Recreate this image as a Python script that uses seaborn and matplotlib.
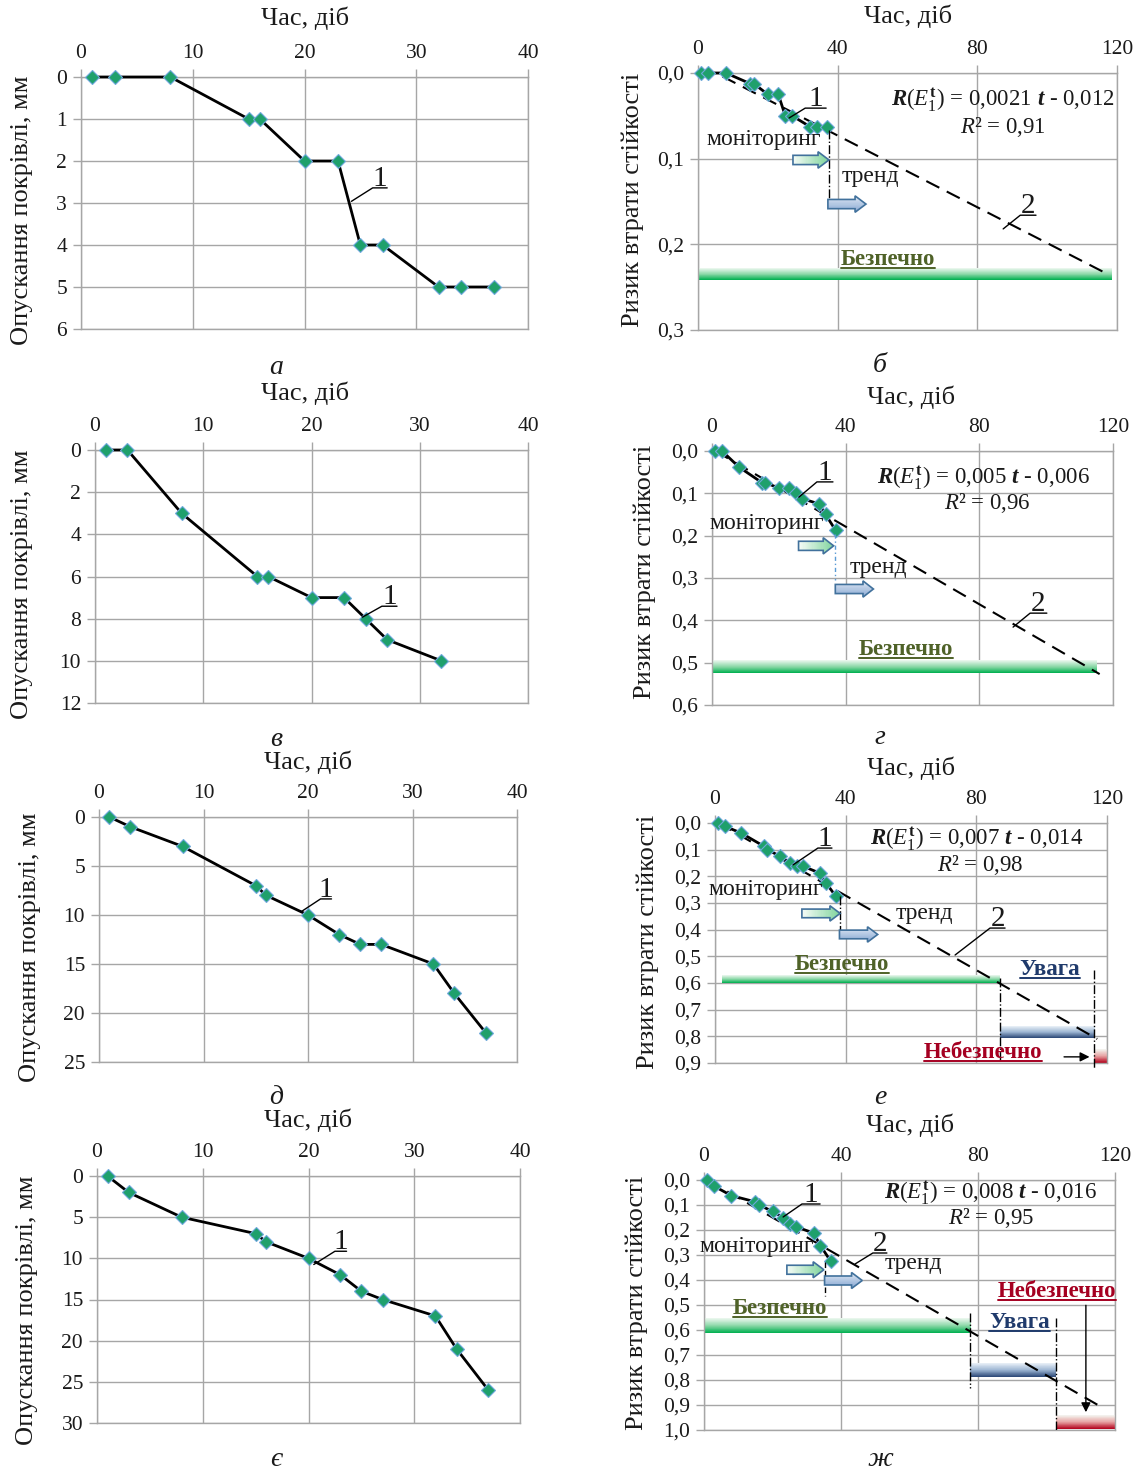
import numpy as np
import matplotlib
matplotlib.use("Agg")
import matplotlib.pyplot as plt
import seaborn as sns
from matplotlib.colors import LinearSegmentedColormap
from matplotlib.patches import Polygon
from matplotlib.lines import Line2D

# ---- дані ----
t_a = [1, 3, 8, 15, 16, 20, 23, 25, 27, 32, 34, 37]
s_a = [0, 0, 0, 1, 1, 2, 2, 4, 4, 5, 5, 5]
r_b = [0, 0, 0, 0.0125, 0.0125, 0.025, 0.025, 0.05, 0.05, 0.0625, 0.0625, 0.0625]
trend_b_t = [7, 116]
trend_b_r = [0.004, 0.232]

t_v = [1, 3, 8, 15, 16, 20, 23, 25, 27, 32]
s_v = [0, 0, 3, 6, 6, 7, 7, 8, 9, 10]
t_g = [1, 3, 8, 15, 16, 20, 23, 25, 27, 32, 34, 37]
r_g = [0, 0, 0.0375, 0.075, 0.075, 0.0875, 0.0875, 0.1, 0.1125, 0.125, 0.15, 0.1875]
trend_g_t = [1, 116]
trend_g_r = [0, 0.527]

t_d = [1, 3, 8, 15, 16, 20, 23, 25, 27, 32, 34, 37]
s_d = [0, 1, 3, 7, 8, 10, 12, 13, 13, 15, 18, 22]
r_e = [0, 0.0125, 0.0375, 0.0875, 0.1, 0.125, 0.15, 0.1625, 0.1625, 0.1875, 0.225, 0.275]
trend_e_t = [1, 117]
trend_e_r = [0, 0.81]

t_ye = [1, 3, 8, 15, 16, 20, 23, 25, 27, 32, 34, 37]
s_ye = [0, 2, 5, 7, 8, 10, 12, 14, 15, 17, 21, 26]
r_zh = [0, 0.025, 0.0625, 0.0875, 0.1, 0.125, 0.15, 0.175, 0.1875, 0.2125, 0.2625, 0.325]
trend_zh_t = [1, 115]
trend_zh_r = [0, 0.9]

eq_b = (r"$\mathbfit{R}(\mathit{E}_{1}^{\mathbf{t}})$ = 0,0021 $\mathbfit{t}$ - 0,012", r"$\mathit{R}$² = 0,91")
eq_g = (r"$\mathbfit{R}(\mathit{E}_{1}^{\mathbf{t}})$ = 0,005 $\mathbfit{t}$ - 0,006", r"$\mathit{R}$² = 0,96")
eq_e = (r"$\mathbfit{R}(\mathit{E}_{1}^{\mathbf{t}})$ = 0,007 $\mathbfit{t}$ - 0,014", r"$\mathit{R}$² = 0,98")
eq_zh = (r"$\mathbfit{R}(\mathit{E}_{1}^{\mathbf{t}})$ = 0,008 $\mathbfit{t}$ - 0,016", r"$\mathit{R}$² = 0,95")

# зони (x0, x1, y0, y1)
safe_b = (0, 118.5, 0.228, 0.242)
safe_g = (0, 115, 0.495, 0.525)
safe_e = (2, 86.8, 0.57, 0.60)
warn_e = (87.2, 116, 0.76, 0.805)
dang_e = (116, 120, 0.85, 0.90)
safe_zh = (0, 77.7, 0.552, 0.612)
warn_zh = (77.7, 102.8, 0.732, 0.788)
dang_zh = (102.8, 120, 0.94, 0.995)

# ---- стиль ----
sns.set_theme(style="white")
plt.rcParams["font.family"] = ["Liberation Serif", "DejaVu Serif"]
plt.rcParams["mathtext.fontset"] = "custom"
plt.rcParams["mathtext.rm"] = "Liberation Serif"
plt.rcParams["mathtext.it"] = "Liberation Serif:italic"
plt.rcParams["mathtext.bf"] = "Liberation Serif:bold"
plt.rcParams["mathtext.bfit"] = "Liberation Serif:italic:bold"

W, H = 1142, 1470
fig = plt.figure(figsize=(W / 100, H / 100), dpi=100)
GRID = "#A6A6A6"
TXT = "#1a1a1a"
EDGE = "#41719C"
FS_TICK = 15.5
FS_LAB = 19
FS_ANN = 17
underlined = []

cm_green = LinearSegmentedColormap.from_list("g", ["#EEF9F1", "#8FD9AA", "#00B050"])
cm_blue = LinearSegmentedColormap.from_list("b", ["#EAF1F8", "#9DB6D3", "#2B4877"])
cm_red = LinearSegmentedColormap.from_list("r", ["#F4F7F2", "#E7A3A3", "#B3001B"])
cm_arr_g = LinearSegmentedColormap.from_list("ag", ["#F4FBF6", "#7FD49C"])
cm_arr_b = LinearSegmentedColormap.from_list("ab", ["#E4ECF6", "#8AA9D3"])


def px_axes(l, t, r, b):
    return fig.add_axes([l / W, 1 - b / H, (r - l) / W, (b - t) / H])


def style(ax, xmax, xstep, ymax, ystep, comma):
    ax.set_xlim(0, xmax)
    ax.set_ylim(ymax, 0)
    ax.set_autoscale_on(False)
    ax.set_xticks(np.arange(0, xmax + 0.01, xstep))
    yt = np.arange(0, ymax + ystep / 2, ystep)
    ax.set_yticks(yt)
    if comma:
        ax.set_yticklabels([f"{v:.1f}".replace(".", ",") for v in yt])
    else:
        ax.set_yticklabels([f"{v:g}" for v in yt])
    ax.xaxis.tick_top()
    ax.grid(True, color=GRID, lw=1)
    ax.set_axisbelow(True)
    for s in ax.spines.values():
        s.set_color(GRID)
        s.set_linewidth(1)
    ax.tick_params(axis="both", length=6, width=1, color=GRID, labelsize=FS_TICK,
                   pad=4, labelcolor=TXT, direction="out")
    ax.tick_params(axis="x", top=True, bottom=False, labeltop=True, labelbottom=False)
    ax.tick_params(axis="y", left=True, right=False)


def curve(ax, t, v):
    sns.lineplot(x=t, y=v, ax=ax, color="black", lw=2, marker="D", markersize=7,
                 markerfacecolor="#1FA06C", markeredgecolor="#6FA8DC",
                 markeredgewidth=0.8, zorder=4, sort=False, clip_on=False)


def trend(ax, t, r):
    ax.plot(t, r, color="black", lw=1.5, dashes=(7, 4), zorder=3)


def leader(ax, p0, p1, x_end, label):
    ax.plot([p0[0], p1[0], x_end], [p0[1], p1[1], p1[1]], color="black", lw=1, zorder=7)
    ax.annotate(label, xy=((p1[0] + x_end) / 2, p1[1]), xytext=(0, 1.5),
                textcoords="offset points", ha="center", va="baseline",
                fontsize=21, color=TXT, zorder=7)


def zone(ax, z, cmap):
    x0, x1, y0, y1 = z
    grad = np.tile(np.linspace(0, 1, 64).reshape(-1, 1), (1, 4))
    ax.imshow(grad, extent=(x0, x1, y1, y0), origin="upper", cmap=cmap,
              aspect="auto", zorder=2, interpolation="nearest")


def block_arrow(ax, x0, x1, y, cmap, vertical):
    (a0, ay), (a1, _) = ax.transLimits.transform([(x0, y), (x1, y)])
    h, hh, hl = 0.018, 0.032, 0.026
    pts = [(a0, ay - h), (a1 - hl, ay - h), (a1 - hl, ay - hh), (a1, ay),
           (a1 - hl, ay + hh), (a1 - hl, ay + h), (a0, ay + h)]
    poly = Polygon(pts, closed=True, transform=ax.transAxes, facecolor="none",
                   edgecolor=EDGE, lw=1.2, zorder=6)
    ax.add_patch(poly)
    if vertical:
        grad = np.tile(np.linspace(0, 1, 32).reshape(-1, 1), (1, 4))
    else:
        grad = np.tile(np.linspace(0, 1, 32).reshape(1, -1), (4, 1))
    im = ax.imshow(grad, extent=(a0, a1, ay - hh, ay + hh), transform=ax.transAxes,
                   origin="upper", cmap=cmap, aspect="auto", zorder=5,
                   interpolation="nearest")
    im.set_clip_path(poly)


def zone_label(ax, x, y, s, color):
    t = ax.text(x, y, s, ha="center", va="center", fontsize=16.5, fontweight="bold",
                color=color, zorder=8)
    underlined.append(t)


def monitoring(ax, mon_xy, green, trend_xy, blue, vline, vcolor="black", vls="-."):
    ax.text(mon_xy[0], mon_xy[1], "моніторинг", ha="right", va="center",
            fontsize=FS_ANN, color=TXT, zorder=8)
    ax.text(trend_xy[0], trend_xy[1], "тренд", ha="left", va="center",
            fontsize=FS_ANN, color=TXT, zorder=8)
    ax.plot([vline[0], vline[0]], [vline[1], vline[2]], color=vcolor, lw=1,
            linestyle=vls, zorder=4)
    block_arrow(ax, green[0], green[1], green[2], cm_arr_g, False)
    block_arrow(ax, blue[0], blue[1], blue[2], cm_arr_b, True)


def equation(ax, eq, eq_xy, r2_xy):
    ax.text(eq_xy[0], eq_xy[1], eq[0], transform=ax.transAxes, ha="right",
            va="center", fontsize=16.5, color=TXT, zorder=8)
    ax.text(r2_xy[0], r2_xy[1], eq[1], transform=ax.transAxes, ha="center",
            va="center", fontsize=16.5, color=TXT, zorder=8)


def ftext(x, y, s, **kw):
    fig.text(x / W, 1 - y / H, s, ha="center", va="center", color=TXT, **kw)


YL = "Опускання покрівлі, мм"
YR = "Ризик втрати стійкості"
XT = "Час, діб"

# ---- а ----
ax = px_axes(81, 77, 528, 329)
style(ax, 40, 10, 6, 1, False)
curve(ax, t_a, s_a)
leader(ax, (24.2, 2.96), (26.1, 2.64), 27.4, "1")
ftext(305, 18, XT, fontsize=FS_LAB)
ftext(22, 210, YL, fontsize=FS_LAB, rotation=90)
ftext(276, 367, "а", fontsize=20, style="italic")

# ---- б ----
ax = px_axes(698, 73, 1117, 330)
style(ax, 120, 40, 0.3, 0.1, True)
zone(ax, safe_b, cm_green)
trend(ax, trend_b_t, trend_b_r)
curve(ax, t_a, r_b)
leader(ax, (26.1, 0.0525), (30.7, 0.041), 36.7, "1")
leader(ax, (87.4, 0.182), (92.3, 0.166), 96.8, "2")
monitoring(ax, (35.3, 0.078), (27.2, 37.5, 0.1015), (41, 0.121), (37.2, 48.1, 0.153),
           (37.5, 0.066, 0.148))
equation(ax, eq_b, (0.995, 0.895), (0.728, 0.79))
zone_label(ax, 54.4, 0.218, "Безпечно", "#4F6228")
ftext(908, 16, XT, fontsize=FS_LAB)
ftext(633, 200, YR, fontsize=FS_LAB, rotation=90)
ftext(880, 365, "б", fontsize=20, style="italic")

# ---- в ----
ax = px_axes(95, 450, 528, 703)
style(ax, 40, 10, 12, 2, False)
curve(ax, t_v, s_v)
leader(ax, (24.7, 7.93), (26.5, 7.41), 27.9, "1")
ftext(305, 393, XT, fontsize=FS_LAB)
ftext(22, 584, YL, fontsize=FS_LAB, rotation=90)
ftext(276, 740, "в", fontsize=20, style="italic")

# ---- г ----
ax = px_axes(712, 451, 1113, 705)
style(ax, 120, 40, 0.6, 0.1, True)
zone(ax, safe_g, cm_green)
trend(ax, trend_g_t, trend_g_r)
curve(ax, t_g, r_g)
leader(ax, (26.0, 0.109), (31.4, 0.073), 36.2, "1")
leader(ax, (90.1, 0.416), (95.2, 0.383), 100.2, "2")
monitoring(ax, (33.4, 0.171), (25.9, 36.4, 0.224), (41.1, 0.276), (36.9, 48.3, 0.326),
           (36.9, 0.197, 0.305), vcolor="#5B9BD5", vls=(0, (3, 2, 1, 2)))
equation(ax, eq_g, (0.943, 0.893), (0.686, 0.795))
zone_label(ax, 58.0, 0.468, "Безпечно", "#4F6228")
ftext(911, 397, XT, fontsize=FS_LAB)
ftext(645, 572, YR, fontsize=FS_LAB, rotation=90)
ftext(880, 738, "г", fontsize=20, style="italic")

# ---- д ----
ax = px_axes(99, 817, 517, 1062)
style(ax, 40, 10, 25, 5, False)
curve(ax, t_d, s_d)
leader(ax, (19.35, 9.66), (21.2, 8.36), 22.25, "1")
ftext(308, 762, XT, fontsize=FS_LAB)
ftext(30, 947, YL, fontsize=FS_LAB, rotation=90)
ftext(276, 1097, "д", fontsize=20, style="italic")

# ---- е ----
ax = px_axes(715, 823, 1107, 1063)
style(ax, 120, 40, 0.9, 0.1, True)
zone(ax, safe_e, cm_green)
zone(ax, warn_e, cm_blue)
zone(ax, dang_e, cm_red)
trend(ax, trend_e_t, trend_e_r)
curve(ax, t_d, r_e)
leader(ax, (23.9, 0.157), (31.5, 0.094), 35.8, "1")
leader(ax, (73.5, 0.495), (84.2, 0.394), 88.8, "2")
monitoring(ax, (33.0, 0.249), (26.6, 38.3, 0.339), (55.3, 0.339), (38.1, 49.8, 0.418),
           (38.4, 0.274, 0.418))
ax.plot([warn_e[0], warn_e[0]], [0.58, 0.9], color="black", lw=1, linestyle="-.", zorder=4)
ax.plot([dang_e[0], dang_e[0]], [0.55, 0.92], color="black", lw=1, linestyle="-.",
        zorder=4, clip_on=False)
ax.annotate("", xy=(115.5, 0.877), xytext=(106, 0.877),
            arrowprops=dict(arrowstyle="-|>", color="black", lw=1, mutation_scale=14))
equation(ax, eq_e, (0.939, 0.933), (0.676, 0.825))
zone_label(ax, 38.9, 0.532, "Безпечно", "#4F6228")
zone_label(ax, 102.5, 0.549, "Увага", "#1F3A6B")
zone_label(ax, 82.1, 0.86, "Небезпечно", "#A50021")
ftext(911, 768, XT, fontsize=FS_LAB)
ftext(648, 942, YR, fontsize=FS_LAB, rotation=90)
ftext(880, 1097, "е", fontsize=20, style="italic")

# ---- є ----
ax = px_axes(97, 1176, 520, 1423)
style(ax, 40, 10, 30, 5, False)
curve(ax, t_ye, s_ye)
leader(ax, (20.5, 10.75), (22.5, 9.14), 23.6, "1")
ftext(308, 1120, XT, fontsize=FS_LAB)
ftext(27, 1310, YL, fontsize=FS_LAB, rotation=90)
ftext(276, 1460, "є", fontsize=20, style="italic")

# ---- ж ----
ax = px_axes(704, 1180, 1115, 1430)
style(ax, 120, 40, 1.0, 0.1, True)
zone(ax, safe_zh, cm_green)
zone(ax, warn_zh, cm_blue)
zone(ax, dang_zh, cm_red)
trend(ax, trend_zh_t, trend_zh_r)
curve(ax, t_ye, r_zh)
leader(ax, (23.1, 0.148), (28.6, 0.096), 33.9, "1")
leader(ax, (44.1, 0.336), (49.3, 0.292), 53.4, "2")
monitoring(ax, (32.0, 0.266), (24.2, 35.0, 0.359), (52.6, 0.336), (35.2, 46.2, 0.402),
           (35.2, 0.326, 0.465), vls=(0, (4, 2)))
ax.plot([warn_zh[0], warn_zh[0]], [0.53, 0.83], color="black", lw=1, linestyle="-.", zorder=4)
ax.plot([dang_zh[0], dang_zh[0]], [0.55, 1.0], color="black", lw=1, linestyle="-.", zorder=4)
ax.annotate("", xy=(111.5, 0.94), xytext=(111.5, 0.49),
            arrowprops=dict(arrowstyle="-|>", color="black", lw=1, mutation_scale=14))
equation(ax, eq_zh, (0.956, 0.948), (0.698, 0.848))
zone_label(ax, 22.2, 0.512, "Безпечно", "#4F6228")
zone_label(ax, 92.2, 0.57, "Увага", "#1F3A6B")
zone_label(ax, 103.0, 0.445, "Небезпечно", "#A50021")
ftext(910, 1125, XT, fontsize=FS_LAB)
ftext(637, 1303, YR, fontsize=FS_LAB, rotation=90)
ftext(880, 1460, "ж", fontsize=20, style="italic")

# підкреслення написів зон
fig.canvas.draw()
rend = fig.canvas.get_renderer()
for txt in underlined:
    bb = txt.get_window_extent(rend)
    yy = (bb.y0 + 2) / H
    fig.add_artist(Line2D([bb.x0 / W, bb.x1 / W], [yy, yy], color=txt.get_color(),
                          lw=1.4, transform=fig.transFigure))

fig.savefig("out.png", dpi=100)
